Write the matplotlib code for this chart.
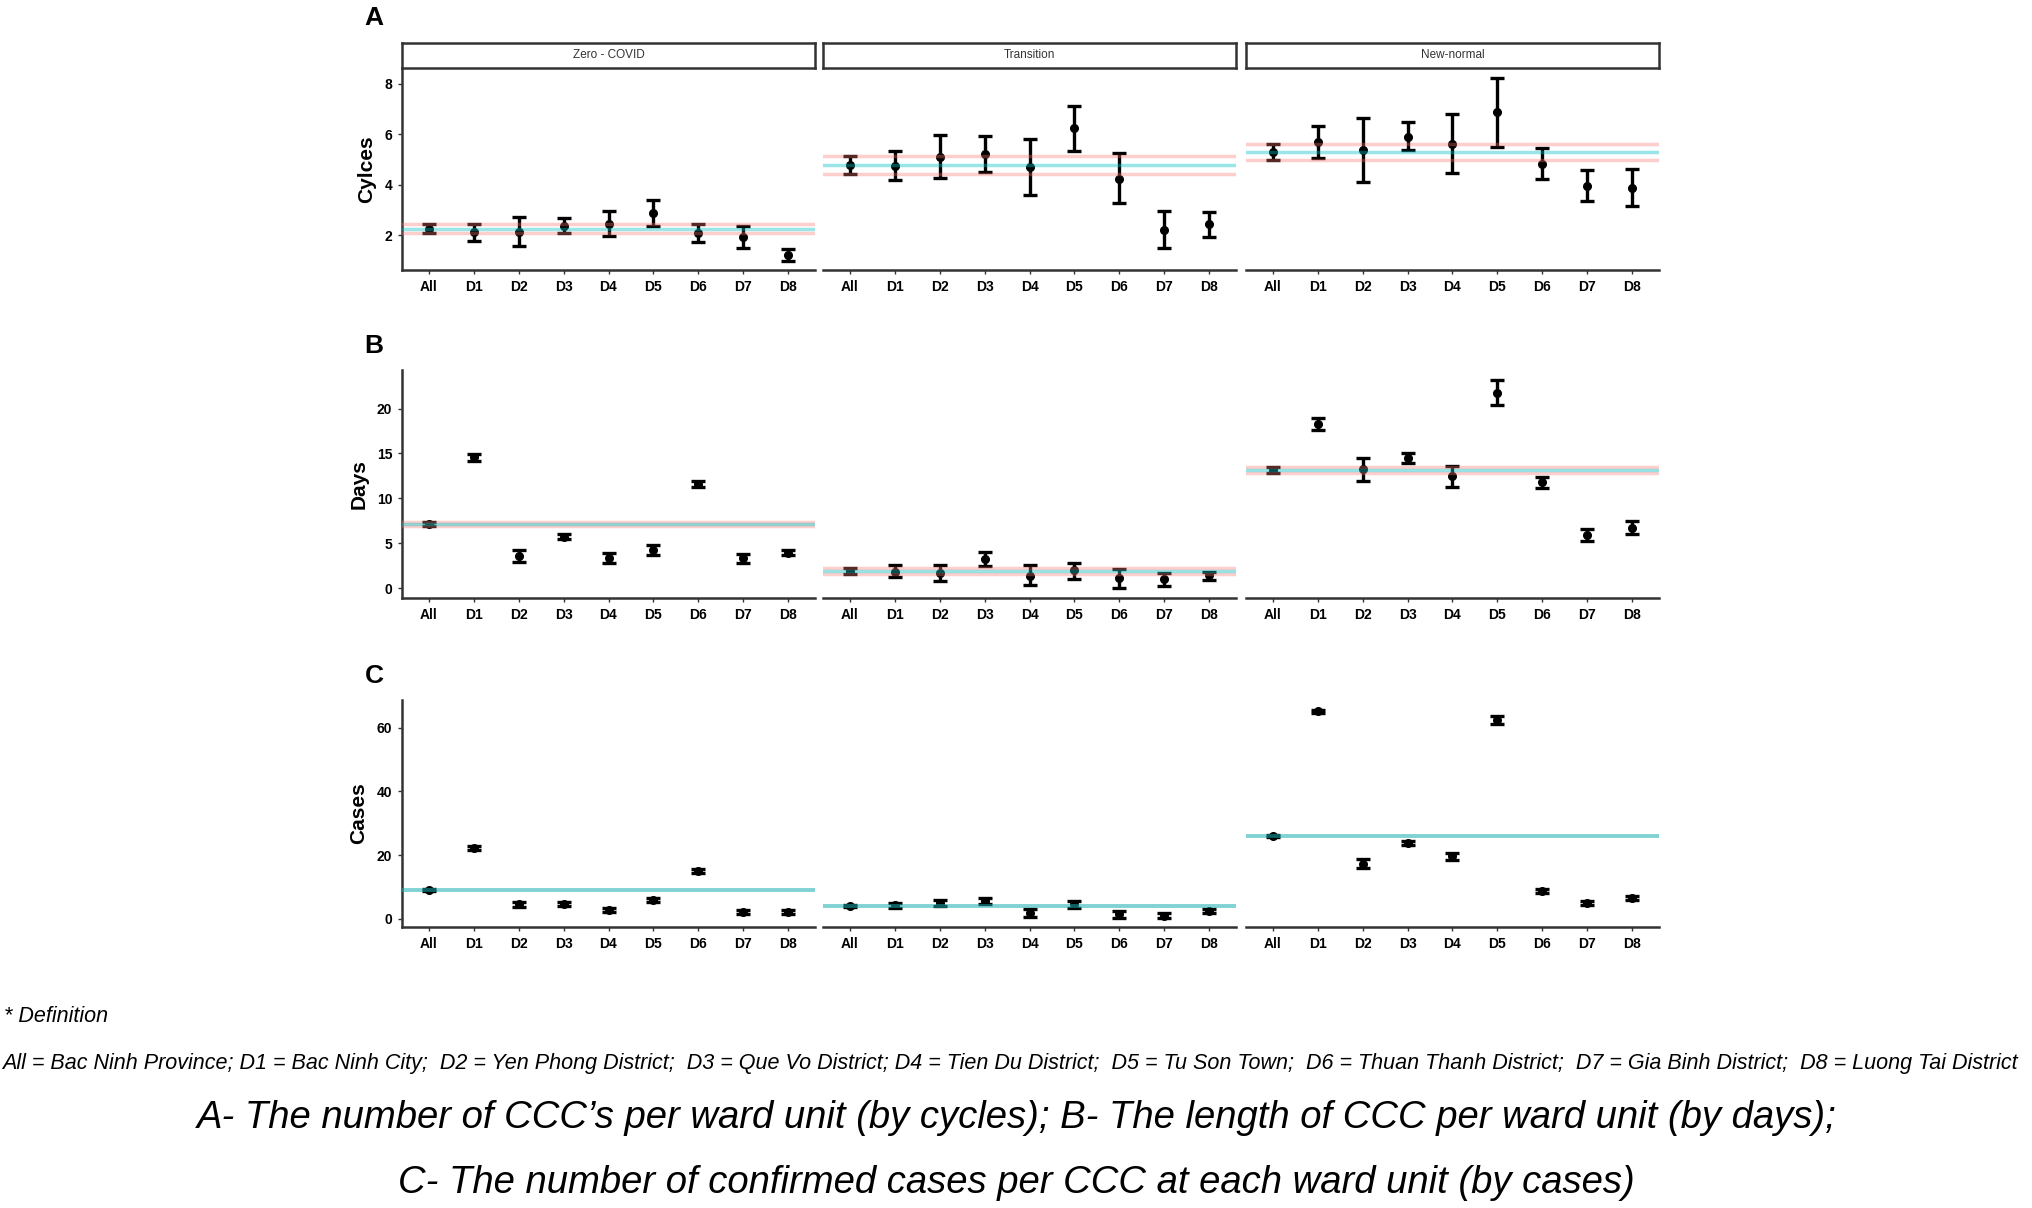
import matplotlib
matplotlib.use("Agg")
import matplotlib.pyplot as plt
import numpy as np

plt.rcParams['font.family'] = ['Liberation Sans', 'DejaVu Sans']

districts = ["All", "D1", "D2", "D3", "D4", "D5", "D6", "D7", "D8"]
phases = ["Zero - COVID", "Transition", "New-normal"]

# A - cycles per ward unit (rows: phases)
cycles_mean = [[2.26, 2.13, 2.13, 2.37, 2.46, 2.88, 2.09, 1.93, 1.21],
               [4.79, 4.76, 5.12, 5.22, 4.70, 6.24, 4.24, 2.22, 2.43],
               [5.29, 5.68, 5.38, 5.91, 5.62, 6.87, 4.83, 3.95, 3.87]]
cycles_lo = [[2.10, 1.78, 1.57, 2.07, 1.96, 2.37, 1.74, 1.50, 0.97],
             [4.43, 4.20, 4.28, 4.50, 3.58, 5.33, 3.28, 1.50, 1.93],
             [4.98, 5.05, 4.10, 5.36, 4.47, 5.49, 4.24, 3.34, 3.16]]
cycles_hi = [[2.43, 2.46, 2.72, 2.68, 2.95, 3.39, 2.43, 2.37, 1.47],
             [5.13, 5.33, 5.97, 5.95, 5.82, 7.13, 5.26, 2.96, 2.92],
             [5.60, 6.32, 6.63, 6.47, 6.80, 8.25, 5.45, 4.57, 4.61]]

# B - length of CCC (days)
days_mean = [[7.15, 14.56, 3.60, 5.74, 3.33, 4.26, 11.56, 3.33, 3.96],
             [1.90, 1.85, 1.74, 3.22, 1.37, 2.04, 1.11, 1.00, 1.41],
             [13.15, 18.33, 13.22, 14.52, 12.48, 21.78, 11.78, 5.93, 6.74]]
days_lo = [[6.96, 14.21, 2.96, 5.44, 2.78, 3.70, 11.24, 2.78, 3.68],
           [1.56, 1.19, 0.81, 2.48, 0.30, 1.00, 0.00, 0.26, 0.93],
           [12.85, 17.67, 11.93, 13.90, 11.22, 20.37, 11.10, 5.30, 6.00]]
days_hi = [[7.33, 14.91, 4.26, 6.04, 3.89, 4.81, 11.88, 3.78, 4.24],
           [2.28, 2.60, 2.60, 4.00, 2.60, 2.85, 2.10, 1.74, 1.85],
           [13.48, 19.00, 14.52, 15.10, 13.63, 23.20, 12.40, 6.55, 7.48]]

# C - confirmed cases per CCC
cases_mean = [[8.9, 22.2, 4.5, 4.5, 2.8, 5.8, 15.0, 2.1, 2.1],
              [3.9, 4.2, 5.0, 5.6, 1.9, 4.5, 1.4, 1.0, 2.4],
              [26.0, 65.1, 17.3, 23.8, 19.7, 62.5, 8.7, 5.0, 6.5]]
cases_lo = [[8.6, 21.6, 3.7, 3.9, 2.2, 5.2, 14.4, 1.6, 1.6],
            [3.6, 3.4, 4.0, 4.6, 0.6, 3.5, 0.3, 0.2, 1.8],
            [25.7, 64.5, 15.9, 23.3, 18.6, 61.2, 8.0, 4.3, 5.9]]
cases_hi = [[9.2, 22.8, 5.3, 5.1, 3.4, 6.4, 15.6, 2.6, 2.6],
            [4.2, 5.0, 6.0, 6.6, 3.2, 5.5, 2.5, 1.8, 3.0],
            [26.3, 65.7, 18.7, 24.3, 20.8, 63.8, 9.4, 5.7, 7.1]]

rows = [
    ("A", "Cylces", cycles_mean, cycles_lo, cycles_hi, (0.62, 8.63), [2, 4, 6, 8], True),
    ("B", "Days", days_mean, days_lo, days_hi, (-1.1, 24.3), [0, 5, 10, 15, 20], True),
    ("C", "Cases", cases_mean, cases_lo, cases_hi, (-2.6, 68.7), [0, 20, 40, 60], False),
]

W, H = 2033, 1208
fig = plt.figure(figsize=(W / 100, H / 100), dpi=100)

col_x = [402, 823, 1246]
col_w = 413
row_y = [(68, 270), (370, 598), (700, 927)]
axis_col = '#333333'

def fx(px):
    return px / W

def fy(px):
    return 1 - px / H

x = np.arange(1, len(districts) + 1)

for r, (letter, ylab, mean, lo, hi, ylim, yticks, show_ci) in enumerate(rows):
    top, bot = row_y[r]
    for c in range(3):
        ax = fig.add_axes([fx(col_x[c]), fy(bot), fx(col_w), (bot - top) / H])
        m = np.array(mean[c])
        l = np.array(lo[c])
        h = np.array(hi[c])
        ax.errorbar(x, m, yerr=[m - l, h - m], fmt='o', color='black',
                    ms=5.5, elinewidth=2.4, capsize=5, capthick=2.4, zorder=2)
        # reference lines from the "All" estimate
        if show_ci:
            ax.axhline(h[0], color='#F8766D', alpha=0.35, lw=2.5, zorder=3)
            ax.axhline(l[0], color='#F8766D', alpha=0.35, lw=2.5, zorder=3)
            ax.axhline(m[0], color='#00BFC4', alpha=0.4, lw=2.5, zorder=3)
        else:
            ax.axhline(m[0], color='#1aaeb2', alpha=0.55, lw=2.8, zorder=3)
        ax.set_xlim(0.4, 9.6)
        ax.set_ylim(*ylim)
        ax.set_xticks(x)
        ax.set_xticklabels(districts, fontsize=10, fontweight='bold')
        for s in ['top', 'right']:
            ax.spines[s].set_visible(False)
        ax.spines['bottom'].set_color(axis_col)
        ax.spines['bottom'].set_linewidth(1.8)
        ax.tick_params(axis='both', colors=axis_col, length=3, width=1,
                       labelcolor='black', pad=4)
        if c == 0:
            ax.spines['left'].set_color(axis_col)
            ax.spines['left'].set_linewidth(1.8)
            ax.set_yticks(yticks)
            ax.set_yticklabels([str(t) for t in yticks], fontsize=10, fontweight='bold')
            ax.set_ylabel(ylab, fontsize=15, fontweight='bold', labelpad=6)
        else:
            ax.spines['left'].set_visible(False)
            ax.set_yticks([])
        # strips only on the first row
        if r == 0:
            sax = fig.add_axes([fx(col_x[c]), fy(top), fx(col_w), (top - 43) / H])
            sax.set_xticks([])
            sax.set_yticks([])
            for s in sax.spines.values():
                s.set_color('#333333')
                s.set_linewidth(1.8)
            sax.text(0.5, 0.5, phases[c], ha='center', va='center',
                     fontsize=8.5, color='#333333', transform=sax.transAxes)
    lab_y = [18, 346, 676][r]
    fig.text(fx(374), fy(lab_y), letter, fontsize=19, fontweight='bold',
             ha='center', va='center')

fig.text(fx(4), fy(1017), "* Definition", fontsize=15.5, style='italic',
         ha='left', va='center')
fig.text(fx(2), fy(1063),
         "All = Bac Ninh Province; D1 = Bac Ninh City;  D2 = Yen Phong District;  D3 = Que Vo District; "
         "D4 = Tien Du District;  D5 = Tu Son Town;  D6 = Thuan Thanh District;  D7 = Gia Binh District;  "
         "D8 = Luong Tai District",
         fontsize=15.5, style='italic', ha='left', va='center')
fig.text(0.5, fy(1118),
         "A- The number of CCC\u2019s per ward unit (by cycles); B- The length of CCC per ward unit (by days);",
         fontsize=27.5, style='italic', ha='center', va='center')
fig.text(0.5, fy(1183),
         "C- The number of confirmed cases per CCC at each ward unit (by cases)",
         fontsize=27.5, style='italic', ha='center', va='center')

fig.savefig("out.png", dpi=100)
